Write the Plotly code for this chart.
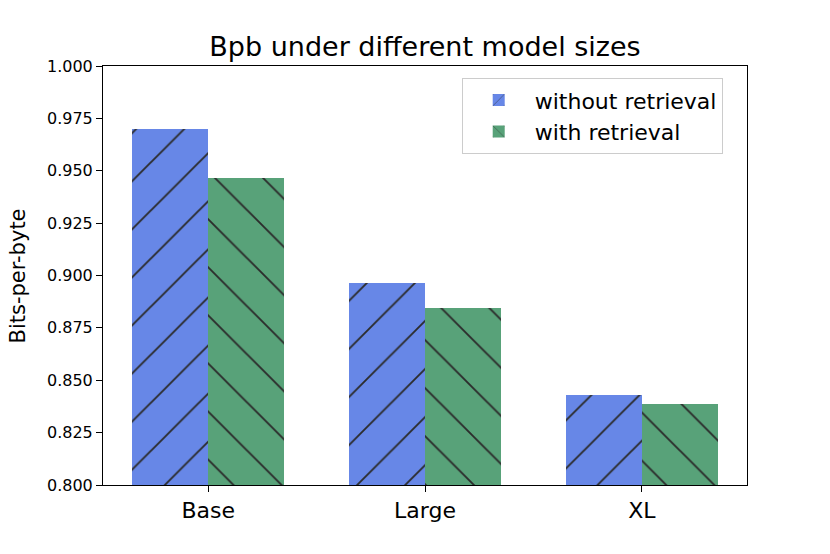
import plotly.graph_objects as go

categories = ["Base", "Large", "XL"]
without_retrieval = [0.970, 0.8965, 0.8428]
with_retrieval = [0.9465, 0.8843, 0.8385]
y_ticks = [0.800, 0.825, 0.850, 0.875, 0.900, 0.925, 0.950, 0.975, 1.000]

positions = list(range(len(categories)))
bar_w = 0.35
font_family = "DejaVu Sans"

fig = go.Figure()
fig.add_trace(go.Bar(
    x=[p - bar_w / 2 for p in positions], y=without_retrieval, width=bar_w,
    name="without retrieval",
    marker=dict(color="#6787E7", line=dict(width=0),
                pattern=dict(shape="/", fgcolor="#2b2b2b", fgopacity=1, size=34, solidity=0.055)),
))
fig.add_trace(go.Bar(
    x=[p + bar_w / 2 for p in positions], y=with_retrieval, width=bar_w,
    name="with retrieval",
    marker=dict(color="#58A279", line=dict(width=0),
                pattern=dict(shape="\\", fgcolor="#2b2b2b", fgopacity=1, size=34, solidity=0.055)),
))

fig.update_layout(
    width=830, height=554,
    margin=dict(l=95, r=91, t=58, b=77),
    paper_bgcolor="white", plot_bgcolor="white",
    font=dict(family=font_family, color="black"),
    title=dict(text="Bpb under different model sizes", x=0.5, xref="paper",
               xanchor="center", y=1 - 39 / 554, yanchor="middle",
               font=dict(size=27, family=font_family, color="black")),
    showlegend=True,
    legend=dict(x=0.557, y=0.971, xanchor="left", yanchor="top",
                bgcolor="white", bordercolor="#cccccc", borderwidth=1,
                font=dict(size=22, family=font_family, color="black"),
                itemwidth=62),
    bargap=0,
    annotations=[dict(text="Bits-per-byte", textangle=-90, xref="paper", yref="paper",
                      x=-0.1320, y=0.5, xanchor="center", yanchor="middle",
                      showarrow=False,
                      font=dict(size=21, family=font_family, color="black"))],
)
fig.update_xaxes(
    range=[-0.485, 2.485], tickvals=positions, ticktext=categories,
    showline=True, linecolor="black", linewidth=1, mirror=True,
    ticks="outside", ticklen=6, tickcolor="black",
    tickfont=dict(size=22, family=font_family, color="black"),
    showgrid=False, zeroline=False, automargin=False,
)
fig.update_yaxes(
    range=[0.8, 1.0], tickvals=y_ticks, ticktext=[f"{v:.3f}" for v in y_ticks],
    showline=True, linecolor="black", linewidth=1, mirror=True,
    ticks="outside", ticklen=6, tickcolor="black",
    tickfont=dict(size=16, family=font_family, color="black"),
    showgrid=False, zeroline=False, automargin=False,
)

fig.write_html("out.html")
